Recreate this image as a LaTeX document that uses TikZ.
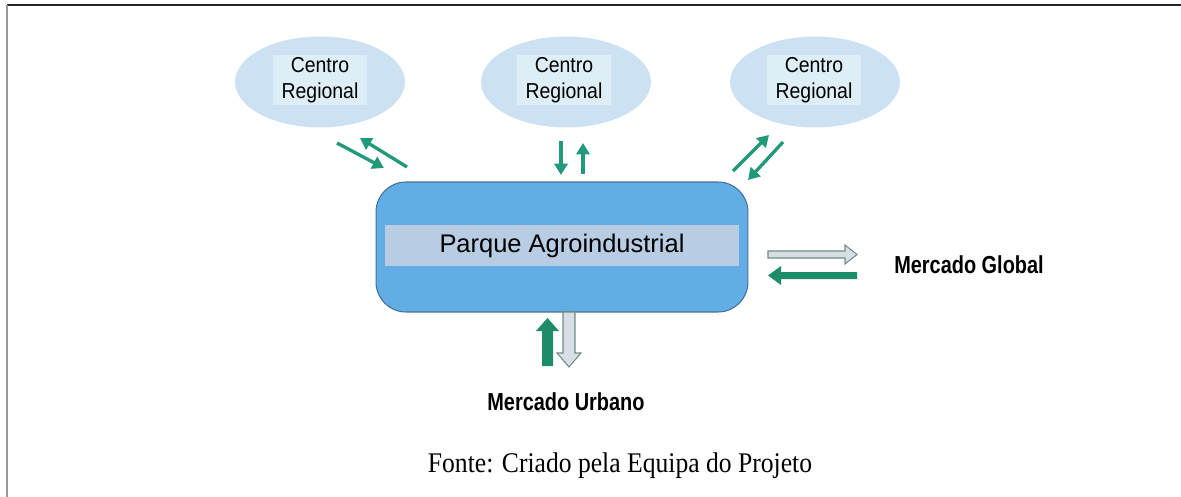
\documentclass[tikz,border=0pt]{standalone}
\usepackage{fontspec}
\setmainfont{Liberation Sans}
\newfontfamily\regionfont[FakeStretch=0.9]{Liberation Sans}
\newfontfamily\marketfont[FakeStretch=0.81]{Liberation Sans}
\newfontfamily\sourcefont[FakeStretch=0.9]{Liberation Serif}
\usetikzlibrary{calc, arrows.meta, shapes.geometric}

\definecolor{regionblue}{HTML}{CCE2F3}
\definecolor{labelblue}{HTML}{DDEEF7}
\definecolor{parkblue}{HTML}{62AEE4}
\definecolor{boxedge}{HTML}{41719C}
\definecolor{bandblue}{HTML}{B8CCE4}
\definecolor{flowgreen}{HTML}{21997A}
\definecolor{blockgreen}{HTML}{1E8B6A}
\definecolor{blockgray}{HTML}{D8DEE6}
\definecolor{blockedge}{HTML}{6E8F84}

\begin{document}
\begin{tikzpicture}[x=0.02cm, y=-0.02cm,
    region/.style={ellipse, fill=regionblue, minimum width=3.4cm, minimum height=1.82cm},
    regionlabel/.style={fill=labelblue, minimum width=1.9cm, minimum height=1cm,
      inner sep=0pt, align=center, font=\regionfont\fontsize{12.3}{14.5}\selectfont},
    flow/.style={draw=flowgreen, line width=1.9pt, -{Triangle[length=6.5pt, width=7.5pt]}},
    market/.style={font=\marketfont\bfseries\fontsize{14}{16}\selectfont}]

    % Page frame
    \useasboundingbox (0,0) rectangle (1181,497);
    \draw[line width=1.1pt, black!85] (7,5) -- (1181,5);
    \draw[line width=1pt, gray!80] (7,5) -- (7,497);

    % Regional centres
    \node[region] (regA) at (320,82) {};
    \node[region] (regB) at (566,82) {};
    \node[region] (regC) at (815,82) {};
    \node[regionlabel] (labA) at (320,80) {Centro\\Regional};
    \node[regionlabel] (labB) at (564,80) {Centro\\Regional};
    \node[regionlabel] (labC) at (814,80) {Centro\\Regional};

    % Agro-industrial park
    \node[draw=boxedge, fill=parkblue, line width=0.6pt, rounded corners=17pt,
      minimum width=7.44cm, minimum height=2.6cm] (parque) at (562,247) {};
    \node[fill=bandblue, minimum width=7.08cm, minimum height=0.82cm, inner sep=0pt,
      font=\fontsize{14.5}{17}\selectfont] (band) at (562,245.5) {Parque Agroindustrial};

    % Flows to and from the regional centres
    \coordinate (a1s) at (337,143); \coordinate (a1e) at (384,168);
    \coordinate (a2s) at (407,167); \coordinate (a2e) at (360,138);
    \coordinate (b1s) at (561,141); \coordinate (b1e) at (561,175);
    \coordinate (b2s) at (583,174); \coordinate (b2e) at (583,143);
    \coordinate (c1s) at (733,171); \coordinate (c1e) at (769,135);
    \coordinate (c2s) at (783,142); \coordinate (c2e) at (748,180);
    \draw[flow] (a1s) -- (a1e);
    \draw[flow] (a2s) -- (a2e);
    \draw[flow] (b1s) -- (b1e);
    \draw[flow] (b2s) -- (b2e);
    \draw[flow] (c1s) -- (c1e);
    \draw[flow] (c2s) -- (c2e);

    % Global market
    \draw[draw=blockedge, fill=blockgray, line width=0.6pt]
      (768,251) -- (845,251) -- (845,245) -- (857,254.5) -- (845,264) -- (845,258) -- (768,258) -- cycle;
    \fill[blockgreen]
      (857,272) -- (781,272) -- (781,266) -- (768,275.5) -- (781,285) -- (781,279) -- (857,279) -- cycle;
    \node[market] (global) at (969,265) {Mercado Global};

    % Urban market
    \fill[blockgreen]
      (542,366) -- (542,331) -- (536,331) -- (547.5,318) -- (559,331) -- (553,331) -- (553,366) -- cycle;
    \draw[draw=blockedge, fill=blockgray, line width=0.6pt]
      (563,312) -- (575,312) -- (575,353) -- (581,353) -- (569,367) -- (557,353) -- (563,353) -- cycle;
    \node[market] (urbano) at (566,402) {Mercado Urbano};

    % Source
    \node[font=\sourcefont\fontsize{16.2}{18}\selectfont] (fonte) at (620,466)
      {Fonte: Criado pela Equipa do Projeto};
\end{tikzpicture}
\end{document}
